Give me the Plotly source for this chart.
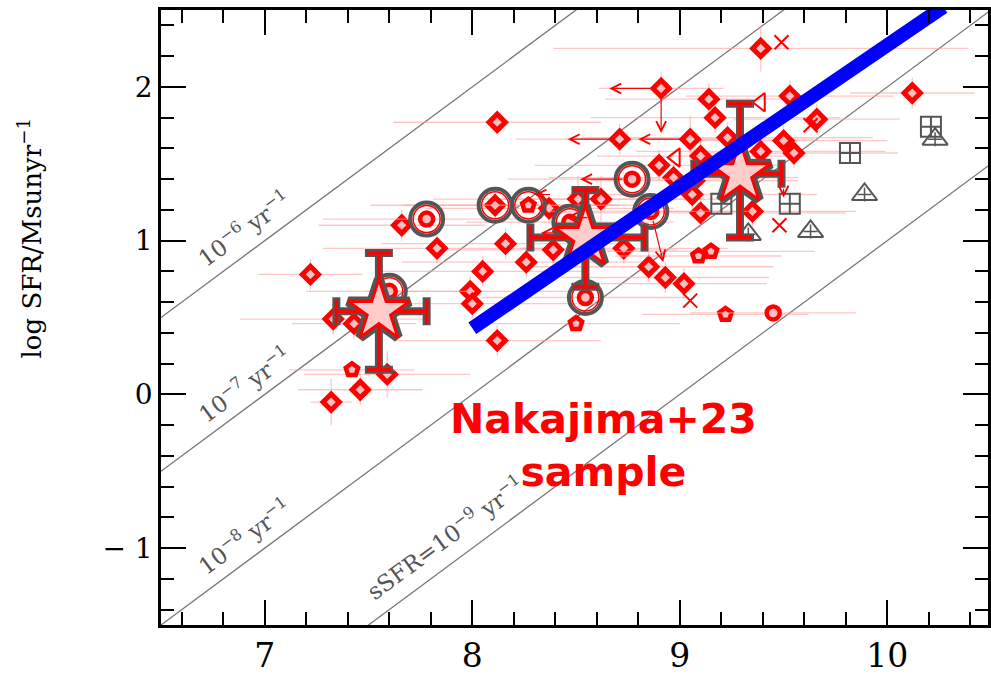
import plotly.graph_objects as go

# ---------------- data ----------------
# red diamonds
dia_x = [7.22, 7.32, 7.46, 7.59, 7.33, 7.43, 7.66, 7.83, 8.12, 8.16, 8.05, 8.26, 7.99, 8.00,
         8.37, 8.51, 8.62, 8.39, 8.73, 8.85, 8.93, 9.02, 8.91, 9.14, 9.17, 9.53, 8.71, 9.05,
         9.23, 9.50, 8.90, 9.10, 9.39, 9.55, 8.97, 9.07, 9.06, 9.10, 9.35, 9.39, 9.66, 10.12,
         8.12, 8.11]
dia_y = [0.78, -0.05, 0.03, 0.13, 0.49, 0.46, 1.10, 0.95, 1.77, 0.98, 0.80, 0.86, 0.67, 0.59,
         1.21, 1.27, 1.27, 0.94, 0.95, 0.83, 0.76, 0.72, 1.99, 1.92, 1.80, 1.94, 1.66, 1.66,
         1.67, 1.65, 1.49, 1.55, 1.58, 1.57, 1.41, 1.39, 1.30, 1.18, 1.19, 2.25, 1.79, 1.96,
         0.35, 1.23]
dia_xerr = [0.25, 0.10, 0.30, 0.40, 0.45, 0.30, 0.40, 0.55, 0.50, 0.60, 0.50, 0.60, 0.50, 0.60,
            0.60, 0.70, 0.50, 0.60, 0.50, 0.60, 0.50, 0.40, 0.30, 0.50, 0.60, 0.50, 0.50, 0.60,
            0.70, 0.50, 0.60, 0.50, 0.60, 0.50, 0.60, 0.50, 0.60, 0.70, 0.50, 1.00, 0.40, 0.30,
            0.50, 0.60]
dia_yerr = [0.10, 0.15, 0.10, 0.15, 0.10, 0.10, 0.10, 0.10, 0.05, 0.10, 0.10, 0.10, 0.10, 0.10,
            0.10, 0.15, 0.15, 0.10, 0.10, 0.10, 0.10, 0.10, 0.10, 0.10, 0.10, 0.10, 0.10, 0.15,
            0.10, 0.10, 0.10, 0.10, 0.10, 0.10, 0.10, 0.10, 0.10, 0.10, 0.10, 0.15, 0.10, 0.10,
            0.10, 0.10]

# red pentagons
pen_x = [7.42, 8.27, 8.50, 9.09, 9.15, 9.22]
pen_y = [0.16, 1.23, 0.46, 0.90, 0.93, 0.52]
pen_xerr = [0.30, 0.60, 0.50, 0.40, 0.50, 0.40]

# red circles
cir_x = [7.78, 8.77, 8.545, 9.45, 7.60, 8.47, 8.86]
cir_y = [1.14, 1.40, 0.63, 0.53, 0.67, 1.12, 1.19]
cir_xerr = [0.50, 0.60, 0.50, 0.40, 0.40, 0.50, 0.50]

# big grey rings (selected objects)
ring_x = [7.78, 8.11, 8.27, 8.77, 8.545, 7.60, 8.47, 8.86]
ring_y = [1.14, 1.23, 1.23, 1.40, 0.63, 0.67, 1.12, 1.19]

# red crosses
crs_x = [9.49, 9.48, 9.05, 9.63]
crs_y = [2.29, 1.10, 0.61, 1.75]

# red open left triangles
tri_x = [9.39, 8.98]
tri_y = [1.90, 1.54]

# grey squares and triangles
sq_x = [9.53, 9.82, 10.21, 9.20]
sq_y = [1.24, 1.57, 1.74, 1.24]
gt_x = [9.33, 9.63, 9.89, 10.23]
gt_y = [1.04, 1.06, 1.30, 1.66]

# stacked stars
star_x = [7.55, 8.545, 9.29]
star_y = [0.54, 1.02, 1.435]
star_xlo = [0.205, 0.265, 0.22]
star_xhi = [0.23, 0.285, 0.20]
star_ylo = [0.38, 0.32, 0.415]
star_yhi = [0.38, 0.31, 0.455]

# upper-limit arrows: (x0, y0) -> (x1, y1)
arr_x0 = [8.91, 8.91, 8.71, 9.05, 8.77, 8.42, 8.45, 8.60, 8.86, 9.50]
arr_y0 = [1.99, 1.99, 1.66, 1.66, 1.40, 1.30, 1.05, 1.15, 1.19, 1.40]
arr_x1 = [8.66, 8.91, 8.46, 8.80, 8.52, 8.30, 8.33, 8.45, 8.92, 9.50]
arr_y1 = [1.99, 1.70, 1.66, 1.66, 1.40, 1.30, 1.05, 1.15, 0.86, 1.28]

# fit line
fit_x = [8.0, 10.27]
fit_y = [0.43, 2.52]

# sSFR reference lines
ssfr_log = [-6, -7, -8, -9]
ssfr_xr = [6.5, 10.5]
ssfr_labels = ["10<sup>−6</sup> yr<sup>−1</sup>", "10<sup>−7</sup> yr<sup>−1</sup>",
               "10<sup>−8</sup> yr<sup>−1</sup>", "sSFR=10<sup>−9</sup> yr<sup>−1</sup>"]
ssfr_lab_x = [6.90, 6.90, 6.90, 7.87]
ssfr_lab_y = [1.08, 0.07, -0.92, -0.93]

RED = "#ff0000"
PINK = "#f7c0c0"
GREY = "#555555"
EBAR = "rgba(255,160,160,0.6)"

fig = go.Figure()

for s in ssfr_log:
    fig.add_trace(go.Scatter(x=ssfr_xr, y=[v + s for v in ssfr_xr], mode="lines",
                             line=dict(color="#777777", width=1.3), hoverinfo="skip"))

def pts(x, y, symbol, size, lw, color=RED, fill=PINK, xerr=None, yerr=None):
    kw = {}
    if xerr is not None:
        kw["error_x"] = dict(type="data", array=xerr, color=EBAR, thickness=1.3, width=0)
    if yerr is not None:
        kw["error_y"] = dict(type="data", array=yerr, color=EBAR, thickness=1.3, width=0)
    fig.add_trace(go.Scatter(x=x, y=y, mode="markers",
                             marker=dict(symbol=symbol, size=size, color=fill,
                                         line=dict(color=color, width=lw)), **kw))

pts(dia_x, dia_y, "diamond", 12.5, 5, xerr=dia_xerr, yerr=dia_yerr)
pts(pen_x, pen_y, "pentagon", 13, 4.5, xerr=pen_xerr)
pts(cir_x, cir_y, "circle", 13, 4.5, xerr=cir_xerr)
pts(ring_x, ring_y, "circle", 33, 4, color=GREY, fill="rgba(0,0,0,0)")
pts(ring_x, ring_y, "circle", 27, 1.5, color=RED, fill="rgba(0,0,0,0)")
fig.add_trace(go.Scatter(x=crs_x, y=crs_y, mode="markers",
                         marker=dict(symbol="x-thin-open", size=14, color=RED, line=dict(color=RED, width=2))))
fig.add_trace(go.Scatter(x=tri_x, y=tri_y, mode="markers",
                         marker=dict(symbol="triangle-left-open", size=16, color=RED, line=dict(color=RED, width=2))))
fig.add_trace(go.Scatter(x=sq_x, y=sq_y, mode="markers",
                         marker=dict(symbol="square-cross-open", size=20, color=GREY, line=dict(color=GREY, width=2))))
fig.add_trace(go.Scatter(x=gt_x, y=gt_y, mode="markers",
                         marker=dict(symbol="triangle-up-open", size=22, color=GREY, line=dict(color=GREY, width=2))))
fig.add_trace(go.Scatter(x=gt_x, y=gt_y, mode="markers",
                         marker=dict(symbol="cross-thin-open", size=10, color=GREY, line=dict(color=GREY, width=1.5))))

# stars with error bars
fig.add_trace(go.Scatter(x=star_x, y=star_y, mode="markers",
                         marker=dict(symbol="star", size=46, color=GREY, line=dict(color=GREY, width=10)),
                         error_x=dict(type="data", symmetric=False, array=star_xhi, arrayminus=star_xlo,
                                      color=GREY, thickness=8, width=14),
                         error_y=dict(type="data", symmetric=False, array=star_yhi, arrayminus=star_ylo,
                                      color=GREY, thickness=8, width=14)))
fig.add_trace(go.Scatter(x=star_x, y=star_y, mode="markers",
                         marker=dict(symbol="star", size=46, color="#ffcccc", line=dict(color=RED, width=3)),
                         error_x=dict(type="data", symmetric=False, array=star_xhi, arrayminus=star_xlo,
                                      color=RED, thickness=3.5, width=12),
                         error_y=dict(type="data", symmetric=False, array=star_yhi, arrayminus=star_ylo,
                                      color=RED, thickness=3.5, width=12)))

fig.add_trace(go.Scatter(x=fit_x, y=fit_y, mode="lines", line=dict(color="#0000ff", width=14)))

ann = []
for i in range(len(arr_x0)):
    ann.append(dict(x=arr_x1[i], y=arr_y1[i], ax=arr_x0[i], ay=arr_y0[i], xref="x", yref="y",
                    axref="x", ayref="y", text="", showarrow=True, arrowhead=5, arrowsize=1.6,
                    arrowwidth=1.2, arrowcolor=RED, standoff=0, startstandoff=8))
for lab, lx, ly in zip(ssfr_labels, ssfr_lab_x, ssfr_lab_y):
    ann.append(dict(x=lx, y=ly, xref="x", yref="y", text=lab, showarrow=False, textangle=-36.3,
                    font=dict(family="DejaVu Serif", size=23, color="#555555")))
ann.append(dict(x=-0.158, y=0.629, xref="paper", yref="paper", xanchor="center", yanchor="middle",
                text="log SFR/Msunyr<sup>−1</sup>", showarrow=False, textangle=-90,
                font=dict(family="DejaVu Serif", size=26, color="black")))
ann.append(dict(x=8.63, y=-0.33, xref="x", yref="y", text="<b>Nakajima+23<br>sample</b>",
                showarrow=False, font=dict(family="DejaVu Sans", size=41, color=RED)))

axis_common = dict(showgrid=False, zeroline=False, showline=True, linecolor="black", linewidth=2.5,
                   mirror="ticks", ticks="inside", ticklen=25, tickwidth=2, tickcolor="black")

fig.update_layout(
    width=991, height=677, showlegend=False,
    plot_bgcolor="white", paper_bgcolor="white",
    margin=dict(l=161, r=0, t=10, b=52),
    annotations=ann,
    xaxis=dict(range=[6.5, 10.485], tickmode="array", tickvals=[7, 8, 9, 10],
               tickfont=dict(family="DejaVu Serif", size=33, color="black"),
               minor=dict(ticks="inside", ticklen=13, tickwidth=2, tickcolor="black", dtick=0.2, tick0=0),
               **axis_common),
    yaxis=dict(range=[-1.5, 2.5], tickmode="array", tickvals=[-1, 0, 1, 2],
               ticktext=["− 1", "0", "1", "2"],
               tickfont=dict(family="DejaVu Serif", size=28, color="black"),
               minor=dict(ticks="inside", ticklen=13, tickwidth=2, tickcolor="black", dtick=0.2, tick0=0),
               **axis_common),
)

fig.write_html("out.html")
